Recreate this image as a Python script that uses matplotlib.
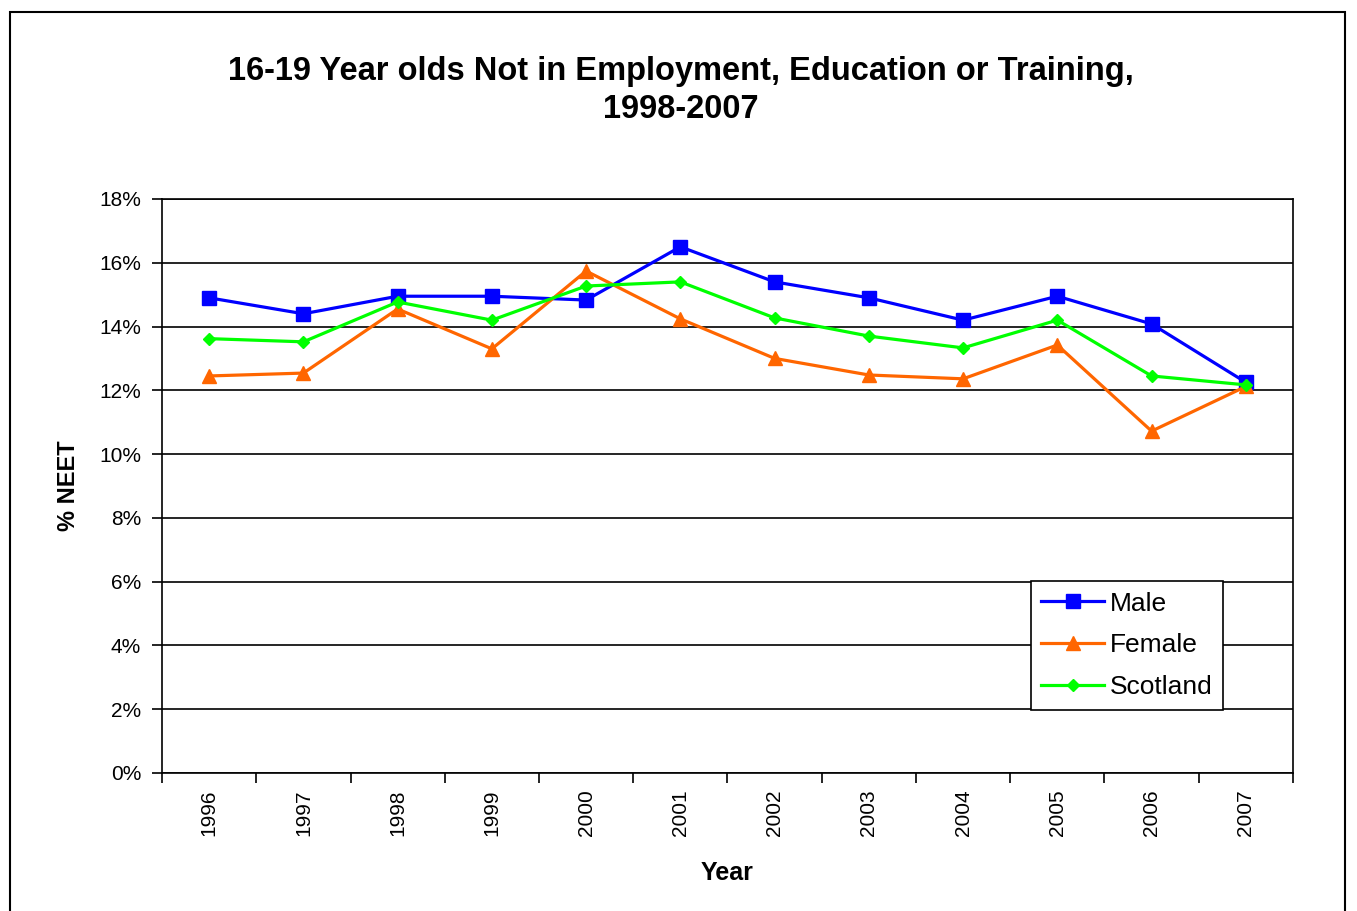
#
# 16-19 year olds NEET, Scotland: Male / Female / all
#
import numpy as np
import matplotlib
matplotlib.use('Agg')
import matplotlib.pyplot as plt
from matplotlib.ticker import FixedLocator, FuncFormatter
from matplotlib.patches import Rectangle

years = ['1996', '1997', '1998', '1999', '2000', '2001', '2002', '2003',
         '2004', '2005', '2006', '2007']
male = [14.9, 14.4, 14.95, 14.95, 14.83, 16.5, 15.4, 14.9, 14.2, 14.95, 14.08, 12.25]
female = [12.45, 12.54, 14.55, 13.3, 15.74, 14.24, 13.0, 12.48, 12.36, 13.42, 10.72, 12.12]
scotland = [13.62, 13.52, 14.77, 14.2, 15.27, 15.4, 14.27, 13.7, 13.33, 14.2, 12.45, 12.17]
yticks = [0, 2, 4, 6, 8, 10, 12, 14, 16, 18]

# Set font
matplotlib.rc('font', family=['Liberation Sans', 'DejaVu Sans'], size=15)

fig = plt.figure(figsize=(13.57, 9.11), dpi=100)
ax = fig.add_axes([0.1194, 0.1515, 0.8334, 0.6301])

# outer chart border
fig.patches.append(Rectangle((10 / 1357, -0.02), 1335 / 1357, 0.02 + (911 - 12) / 911,
                             transform=fig.transFigure, fill=False,
                             edgecolor='black', linewidth=1.5))

x = np.arange(len(years))
ax.plot(x, male, color='#0000FF', lw=2.3, marker='s', ms=9.5, label='Male', zorder=3)
ax.plot(x, female, color='#FF6600', lw=2.3, marker='^', ms=10, label='Female', zorder=3)
ax.plot(x, scotland, color='#00FF00', lw=2.3, marker='D', ms=6, label='Scotland', zorder=3)

ax.set_xlim(-0.5, len(years) - 0.5)
ax.set_ylim(0, 18)

for yv in yticks:
    ax.axhline(yv, color='black', lw=1.2, zorder=1)

ax.set_yticks(yticks)
ax.yaxis.set_major_formatter(FuncFormatter(lambda v, p: '%d%%' % v))
ax.tick_params(axis='y', direction='out', length=7, width=1.2, labelsize=15, pad=8)

ax.set_xticks(x)
ax.set_xticklabels(years, rotation=90, fontsize=15)
ax.xaxis.set_minor_locator(FixedLocator(np.arange(-0.5, len(years), 1.0)))
ax.tick_params(axis='x', which='major', length=0, pad=12)
ax.tick_params(axis='x', which='minor', direction='out', length=7, width=1.2)

for s in ax.spines.values():
    s.set_linewidth(1.2)

ax.set_xlabel('Year', fontsize=18, fontweight='bold', labelpad=18)
ax.set_ylabel('% NEET', fontsize=17, fontweight='bold', labelpad=14)

leg = ax.legend(loc='upper left', bbox_to_anchor=(0.768, 0.3345), fontsize=19,
                frameon=True, fancybox=False, edgecolor='black', framealpha=1,
                handlelength=2.4, handletextpad=0.2, borderpad=0.4,
                labelspacing=0.68, borderaxespad=0)
leg.get_frame().set_linewidth(1.2)

fig.text(0.502, 0.901, '16-19 Year olds Not in Employment, Education or Training,\n1998-2007',
         ha='center', va='center', fontsize=23.5, fontweight='bold', linespacing=1.3)

plt.savefig('out.png', dpi=100)
plt.close()
